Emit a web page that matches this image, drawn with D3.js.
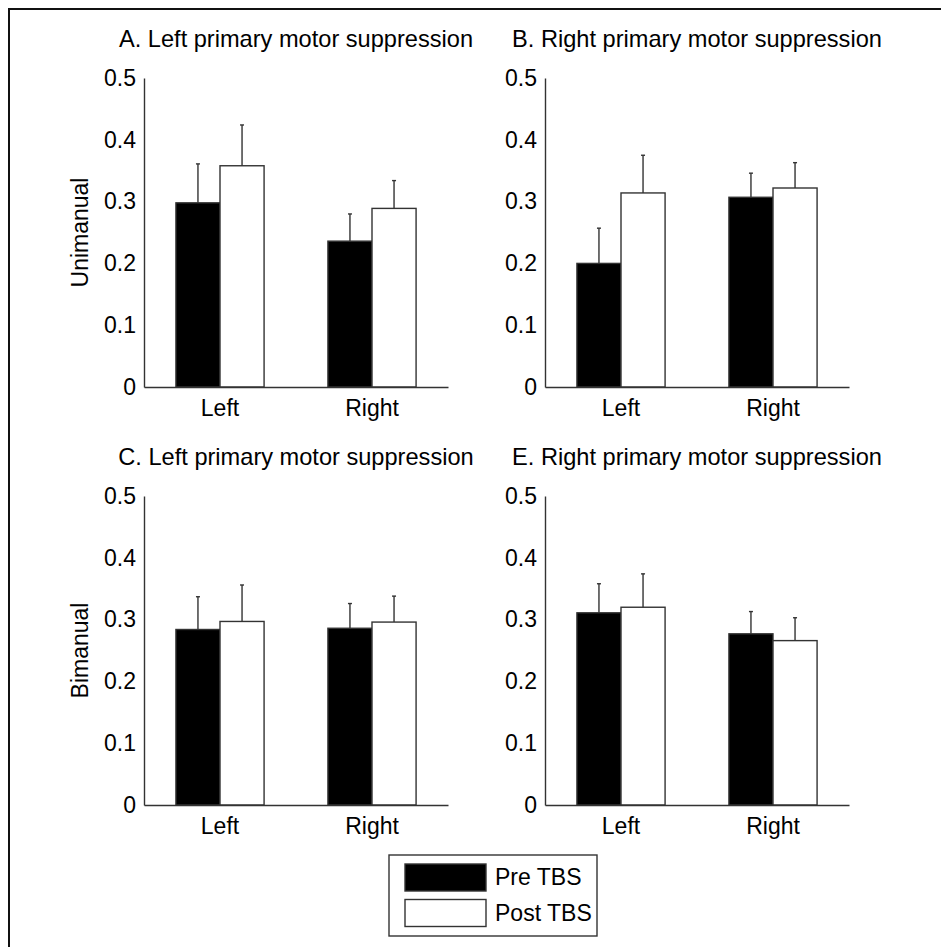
<!DOCTYPE html>
<html>
<head>
<meta charset="utf-8">
<script src="https://cdn.jsdelivr.net/npm/d3@7"></script>
<style>
  body { margin: 0; background: #fff; }
  svg { font-family: "Liberation Sans", Arial, sans-serif; }
  .axis path { stroke: #333; stroke-width: 1.4; }
  .axis text { font-size: 23px; fill: #000; }
</style>
</head>
<body>
<svg id="fig"></svg>
<script>
// group / condition names
const groups = ["Left", "Right"];
const conditions = ["Pre TBS", "Post TBS"];
const yTicks = [0, 0.1, 0.2, 0.3, 0.4, 0.5];
const rowLabels = ["Unimanual", "Bimanual"];
const panelTitles = [
    "A. Left primary motor suppression",
    "B. Right primary motor suppression",
    "C. Left primary motor suppression",
    "E. Right primary motor suppression"
];

// means (Left, Right) and error bar lengths
const panelA_pre = [0.298, 0.236];
const panelA_post = [0.358, 0.289];
const panelA_preErr = [0.063, 0.044];
const panelA_postErr = [0.066, 0.045];

const panelB_pre = [0.200, 0.307];
const panelB_post = [0.314, 0.322];
const panelB_preErr = [0.057, 0.039];
const panelB_postErr = [0.061, 0.041];

const panelC_pre = [0.284, 0.286];
const panelC_post = [0.297, 0.296];
const panelC_preErr = [0.053, 0.040];
const panelC_postErr = [0.059, 0.042];

const panelE_pre = [0.311, 0.277];
const panelE_post = [0.320, 0.266];
const panelE_preErr = [0.047, 0.036];
const panelE_postErr = [0.054, 0.037];

const panelData = [
    {pre: panelA_pre, post: panelA_post, preErr: panelA_preErr, postErr: panelA_postErr},
    {pre: panelB_pre, post: panelB_post, preErr: panelB_preErr, postErr: panelB_postErr},
    {pre: panelC_pre, post: panelC_post, preErr: panelC_preErr, postErr: panelC_postErr},
    {pre: panelE_pre, post: panelE_post, preErr: panelE_preErr, postErr: panelE_postErr}
];

const W = 941, H = 947;
const plotW = 304, plotH = 309;
const lefts = [144, 545];
const tops = [78, 496];
const fills = {"Pre TBS": "#000", "Post TBS": "#fff"};

const svg = d3.select("#fig").attr("width", W).attr("height", H);

// outer frame (only left and top edges are visible)
svg.append("path")
    .attr("d", `M9,${H} V9 H${W}`)
    .attr("fill", "none")
    .attr("stroke", "#111")
    .attr("stroke-width", 2);

const x = d3.scaleBand().domain(groups).range([0, plotW]).paddingInner(0.42).paddingOuter(0.21);
const xSub = d3.scaleBand().domain(conditions).range([0, x.bandwidth()]);
const y = d3.scaleLinear().domain([0, 0.5]).range([plotH, 0]);

panelData.forEach((pd, i) => {
    const col = i % 2, row = Math.floor(i / 2);
    const g = svg.append("g").attr("transform", `translate(${lefts[col]},${tops[row]})`);

    // title
    g.append("text")
        .attr("x", plotW / 2)
        .attr("y", -31)
        .attr("text-anchor", "middle")
        .style("font-size", "23.6px")
        .text(panelTitles[i]);

    // row label on left column
    if (col === 0) {
        g.append("text")
            .attr("transform", `translate(-56,${plotH / 2}) rotate(-90)`)
            .attr("text-anchor", "middle")
            .style("font-size", "23px")
            .text(rowLabels[row]);
    }

    const rows = [];
    groups.forEach((grp, k) => {
        rows.push({grp, cond: "Pre TBS", v: pd.pre[k], e: pd.preErr[k]});
        rows.push({grp, cond: "Post TBS", v: pd.post[k], e: pd.postErr[k]});
    });

    // bars
    g.selectAll("rect.bar")
        .data(rows)
        .join("rect")
        .attr("class", "bar")
        .attr("x", d => x(d.grp) + xSub(d.cond))
        .attr("y", d => y(d.v))
        .attr("width", xSub.bandwidth())
        .attr("height", d => y(0) - y(d.v))
        .attr("fill", d => fills[d.cond])
        .attr("stroke", "#333")
        .attr("stroke-width", 1.4);

    // error bars (upper only)
    const eb = g.selectAll("g.err").data(rows).join("g").attr("class", "err");
    eb.append("line")
        .attr("x1", d => x(d.grp) + xSub(d.cond) + xSub.bandwidth() / 2)
        .attr("x2", d => x(d.grp) + xSub(d.cond) + xSub.bandwidth() / 2)
        .attr("y1", d => y(d.v))
        .attr("y2", d => y(d.v + d.e))
        .attr("stroke", "#333")
        .attr("stroke-width", 1.4);
    eb.append("line")
        .attr("x1", d => x(d.grp) + xSub(d.cond) + xSub.bandwidth() / 2 - 2)
        .attr("x2", d => x(d.grp) + xSub(d.cond) + xSub.bandwidth() / 2 + 2)
        .attr("y1", d => y(d.v + d.e))
        .attr("y2", d => y(d.v + d.e))
        .attr("stroke", "#333")
        .attr("stroke-width", 1.4);

    // axes
    g.append("g")
        .attr("class", "axis")
        .call(d3.axisLeft(y).tickValues(yTicks).tickSize(0).tickPadding(8).tickFormat(d3.format("~g")))
        .call(a => a.selectAll("text").attr("font-family", null).attr("font-size", null));

    g.append("g")
        .attr("class", "axis")
        .attr("transform", `translate(0,${plotH})`)
        .call(d3.axisBottom(x).tickSize(0).tickPadding(13))
        .call(a => a.selectAll("text").attr("font-family", null).attr("font-size", null));
});

// legend
const legend = svg.append("g").attr("transform", "translate(389,855)");
legend.append("rect")
    .attr("width", 208).attr("height", 81)
    .attr("fill", "#fff").attr("stroke", "#333").attr("stroke-width", 1.4);
conditions.forEach((c, i) => {
    legend.append("rect")
        .attr("x", 16).attr("y", 9 + i * 35.5)
        .attr("width", 81).attr("height", 27)
        .attr("fill", fills[c]).attr("stroke", "#333").attr("stroke-width", 1.4);
    legend.append("text")
        .attr("x", 106).attr("y", 30 + i * 36)
        .style("font-size", "23px")
        .text(c);
});
</script>
</body>
</html>
